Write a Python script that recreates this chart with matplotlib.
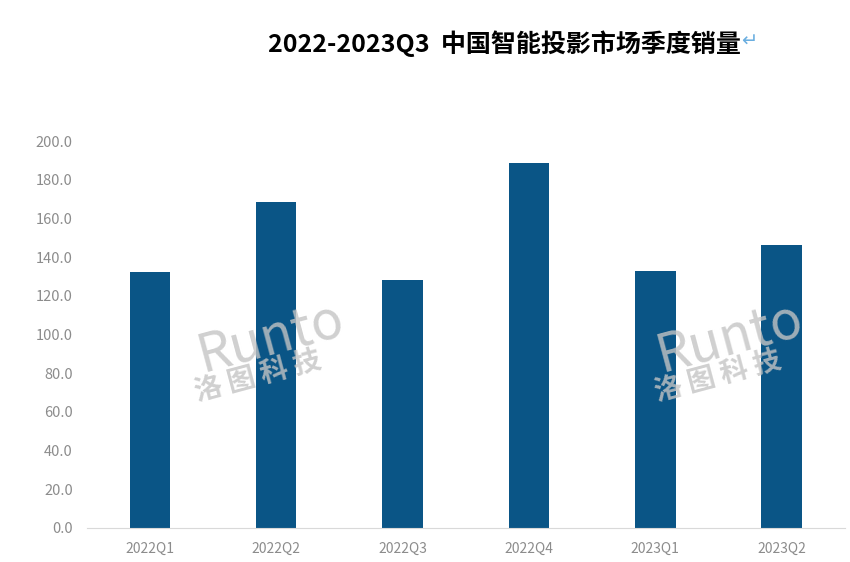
import matplotlib
matplotlib.use('Agg')
import matplotlib.pyplot as plt

plt.rcParams['font.family'] = ['Noto Sans CJK SC', 'DejaVu Sans']

quarters = ['2022Q1', '2022Q2', '2022Q3', '2022Q4', '2023Q1', '2023Q2']
sales = [132.3, 168.5, 128.2, 188.6, 132.8, 146.2]
yticks = [0, 20, 40, 60, 80, 100, 120, 140, 160, 180, 200]

fig = plt.figure(figsize=(8.5, 5.62), dpi=100)
ax = fig.add_axes([0.102, 0.0605, 0.892, 0.6885])

ax.bar(range(len(quarters)), sales, width=0.32, color='#0a5586', zorder=2)
ax.set_xlim(-0.5, len(quarters) - 0.5)
ax.set_ylim(0, 200)
ax.set_yticks(yticks)
ax.set_yticklabels([f'{v:.1f}' for v in yticks], color='#8c8c8c', fontsize=10.5)
ax.set_xticks(range(len(quarters)))
ax.set_xticklabels(quarters, color='#8c8c8c', fontsize=10)
ax.tick_params(length=0, pad=10)
for s in ['top', 'right', 'left']:
    ax.spines[s].set_visible(False)
ax.spines['bottom'].set_color('#d9d9d9')

# title
fig.text(0.315, 0.923, '2022-2023Q3  中国智能投影市场季度销量', fontsize=18,
         fontweight='bold', color='black', ha='left', va='center')
fig.text(0.872, 0.927, '↵', fontsize=14, color='#6aaee0', ha='left', va='center',
         family=['DejaVu Sans'])

# watermarks
for cx in [0.318, 0.859]:
    fig.text(cx, 0.40, 'Runto', fontsize=38, color='#c4c4c4', alpha=0.8,
             rotation=15, ha='center', va='center', zorder=5)
    fig.text(cx - 0.014, 0.33, '洛 图 科 技', fontsize=20, color='#c4c4c4', alpha=0.8,
             rotation=15, ha='center', va='center', fontweight='bold', zorder=5)

fig.savefig('out.png', dpi=100)
